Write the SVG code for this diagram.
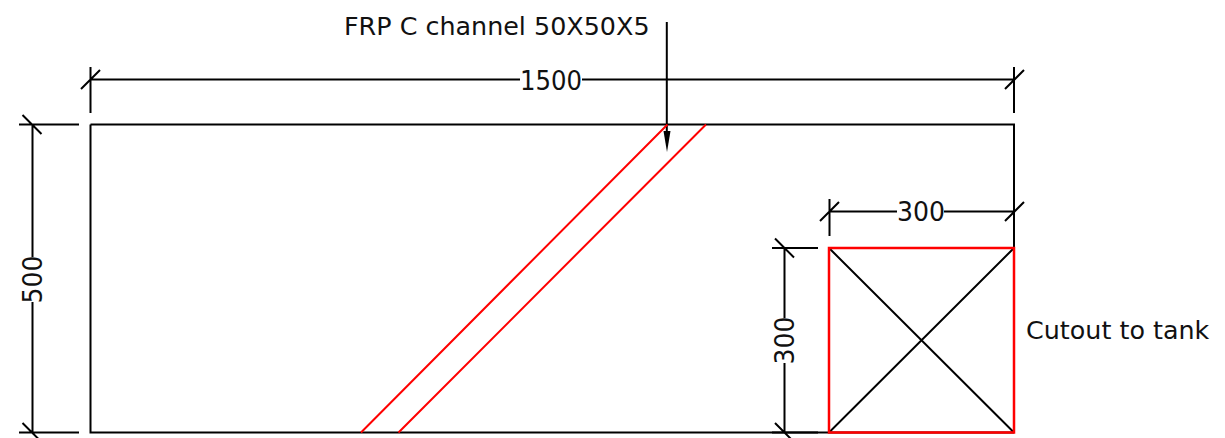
<svg xmlns="http://www.w3.org/2000/svg" width="1225" height="438" viewBox="0 0 1225 438">
<defs><style>
.k{stroke:#000;stroke-width:2;fill:none}
.r{stroke:#f00;stroke-width:2;fill:none}
.t{font-family:"DejaVu Sans",Verdana,sans-serif;font-size:25.4px;fill:#111}
.d{font-size:27px}
</style></defs>
<rect width="1225" height="438" fill="#fff"/>
<g id="connectors">
<path class="k" d="M90.500 67V113M1014 67V113M90.500 79.500H520M582 79.500H1014M81 89L100 70M1005 89L1024 70"/>
<path class="k" d="M19 124.500H79M19 432.500H79M32.500 124.500V257M32.500 302V432.500M22.500 115L41.500 134M22.500 423L41.500 442"/>
<path class="k" d="M829.500 199V236M829.500 211.500H897M944 211.500H1014M820 221L839 202M1005 221L1024 202"/>
<path class="k" d="M772 248H818M772 432.500H818M784.500 248V318M784.500 363V432.500M775 238.500L794 257.500M775 423L794 442"/>
<path class="k" d="M666.800 22V140"/>
<path d="M663.500 131H670.500L667 152Z" fill="#000"/>
</g>
<g id="panel"><path class="k" d="M90.500 124.500H1014V248M1014 432.500H90.500V124.500"/></g>
<g id="channel"><path class="r" d="M667.500 124.500L361 432.500M706 124.500L398.500 432.500"/></g>
<g id="cutout">
<path class="k" d="M829 248L1014 432.500M1014 248L829 432.500"/>
<rect class="r" x="829" y="248" width="185" height="184.500" style="stroke-width:2.500"/>
</g>
<g id="labels">
<text class="t" x="344" y="34.500">FRP C channel 50X50X5</text>
<text class="t d" x="520" y="89.500" textLength="62" lengthAdjust="spacingAndGlyphs">1500</text>
<text class="t d" x="897" y="220.500" textLength="48" lengthAdjust="spacingAndGlyphs">300</text>
<text class="t" x="1026" y="339">Cutout to tank</text>
<text class="t d" transform="translate(42,303.500) rotate(-90)" textLength="48" lengthAdjust="spacingAndGlyphs">500</text>
<text class="t d" transform="translate(794,364.500) rotate(-90)" textLength="48" lengthAdjust="spacingAndGlyphs">300</text>
</g>
</svg>
